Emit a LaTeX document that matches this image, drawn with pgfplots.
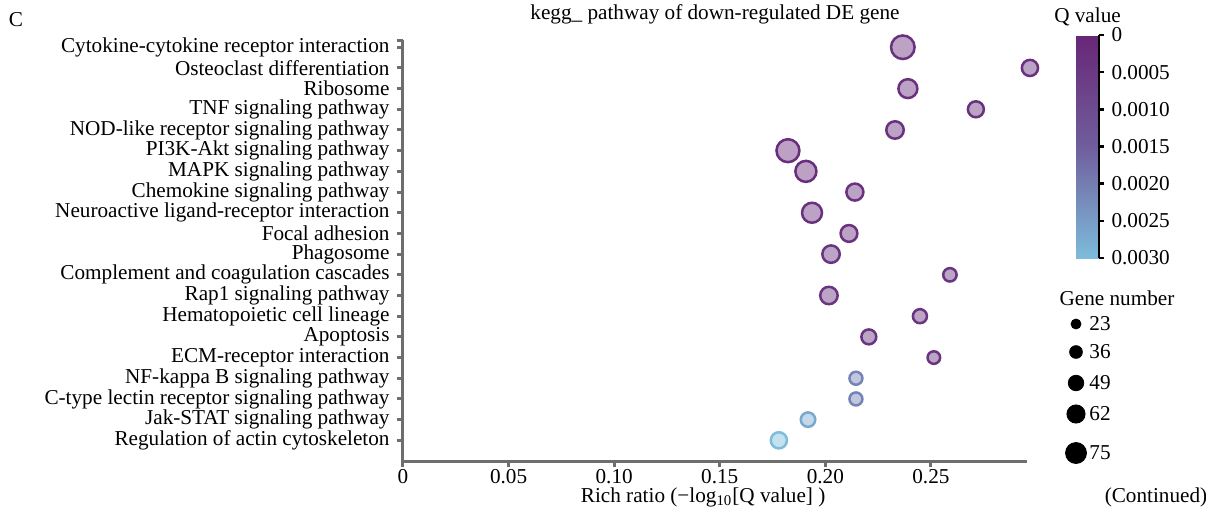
\documentclass[border=0pt]{standalone}
\usepackage{fontspec}
\setmainfont{Liberation Serif}
\usepackage{pgfplots}
\pgfplotsset{compat=1.18}
\usepackage{pgfplotstable}
\definecolor{axgray}{HTML}{6E6E6E}

\pgfplotstableread{
y x q n
20 0.2367 0.0003 99
19 0.2969 0.0003 64
18 0.2391 0.0003 77
17 0.2713 0.0003 63
16 0.2330 0.0003 70
15 0.1823 0.0002 96
14 0.1908 0.0002 87
13 0.2140 0.0003 68
12 0.1937 0.0003 82
11 0.2112 0.0003 67
10 0.2027 0.0004 70
9 0.2590 0.0004 51
8 0.2017 0.0004 70
7 0.2448 0.0004 54
6 0.2206 0.0004 58
5 0.2514 0.0004 47
4 0.2145 0.0021 49
3 0.2145 0.0021 49
2 0.1918 0.0027 56
1 0.1780 0.0030 64
}\kegg

\pgfplotstableread{
x y n
336.5 68.5 23
336.5 54.5 36
336.5 39 49
336.5 23.5 62
336.5 4 75
}\genelegend

\begin{document}
\fontsize{10.6}{12.7}\selectfont
\begin{tikzpicture}
\path[use as bounding box] (-201.5pt,-24.5pt) rectangle (401.5pt,230.5pt);
\begin{axis}[
  at={(0,0)}, anchor=south west,
  scale only axis, width=312pt, height=210.5pt,
  xmin=0, xmax=0.2955, ymin=0, ymax=20.35,
  axis x line*=bottom, axis y line*=left,
  axis line style={axgray, line width=1.5pt},
  x axis line style={-}, y axis line style={-},
  every tick/.style={axgray, line width=1.5pt},
  tick align=outside, major tick length=3pt,
  xtick={0,0.05,0.1,0.15,0.2,0.25},
  xticklabels={0,0.05,0.10,0.15,0.20,0.25},
  xticklabel style={yshift=2.5pt},
  ytick={1,...,20},
  extra y ticks={20.35}, extra y tick labels={},
  yticklabels={Regulation of actin cytoskeleton, Jak-STAT signaling pathway, C-type lectin receptor signaling pathway, NF-kappa B signaling pathway, ECM-receptor interaction, Apoptosis, Hematopoietic cell lineage, Rap1 signaling pathway, Complement and coagulation cascades, Phagosome, Focal adhesion, Neuroactive ligand-receptor interaction, Chemokine signaling pathway, MAPK signaling pathway, PI3K-Akt signaling pathway, NOD-like receptor signaling pathway, TNF signaling pathway, Ribosome, Osteoclast differentiation, Cytokine-cytokine receptor interaction},
  clip=false,
  colormap={qv}{rgb255(0)=(104,38,118) rgb255(1)=(112,94,156) rgb255(2)=(125,188,219)},
  point meta min=0, point meta max=0.003,
  colorbar,
  colorbar style={
    at={(parent axis.north east)}, anchor=north west,
    xshift=16pt, yshift=2.5pt,
    width=11.5pt, height=111.5pt,
    y dir=reverse,
    ytick={0,0.0005,0.001,0.0015,0.002,0.0025,0.003},
    yticklabels={0,0.0005,0.0010,0.0015,0.0020,0.0025,0.0030},
    scaled y ticks=false,
    axis x line=none, axis y line*=right,
    y axis line style={black, line width=1.2pt, -},
    every tick/.style={black, line width=1.2pt},
    tick align=outside, major tick length=2.5pt,
    title={Q value},
    title style={yshift=-5pt},
  },
  title={kegg\_ pathway of down-regulated DE gene},
  title style={yshift=-2pt},
  xlabel={Rich ratio (−log\textsubscript{10}[Q value] )},
  xlabel style={at={(axis description cs:0.481,0)}, anchor=center, yshift=-18pt},
]
\addplot[scatter, only marks, mark=*, scatter src=explicit,
  line width=1.25pt,
  visualization depends on={\thisrow{n} \as \gn},
  scatter/use mapped color={draw=mapped color, fill=mapped color!45!white},
  scatter/@pre marker code/.append style={/tikz/mark size={0.5*(3.75+(\gn-23)*0.1058)}}]
  table[x=x, y=y, meta=q] {\kegg};
\node[anchor=center] at (rel axis cs:0,1) [xshift=-193.5pt, yshift=10pt] {C};
\end{axis}
\begin{axis}[
  at={(0,0)}, anchor=south west,
  scale only axis, width=312pt, height=210.5pt,
  xmin=0, xmax=312, ymin=0, ymax=210.5,
  hide axis, clip=false,
  /pgf/number format/assume math mode=true,
]
\addplot[only marks, mark=*, black,
  point meta=explicit,
  scatter,
  visualization depends on={\thisrow{n} \as \gn},
  scatter/use mapped color={draw=black, fill=black},
  scatter/@pre marker code/.append style={/tikz/mark size={0.5*(5+(\gn-23)*0.1058)}}]
  table[x=x, y=y, meta=n] {\genelegend};
\addplot[draw=none, mark=none,
  nodes near coords,
  nodes near coords style={anchor=west, xshift=3pt, black},
  point meta=explicit]
  table[x=x, y=y, meta=n] {\genelegend};
\node at (axis cs:357,81.5) {Gene number};
\node at (axis cs:376.5,-18) {(Continued)};
\end{axis}
\end{tikzpicture}
\end{document}
